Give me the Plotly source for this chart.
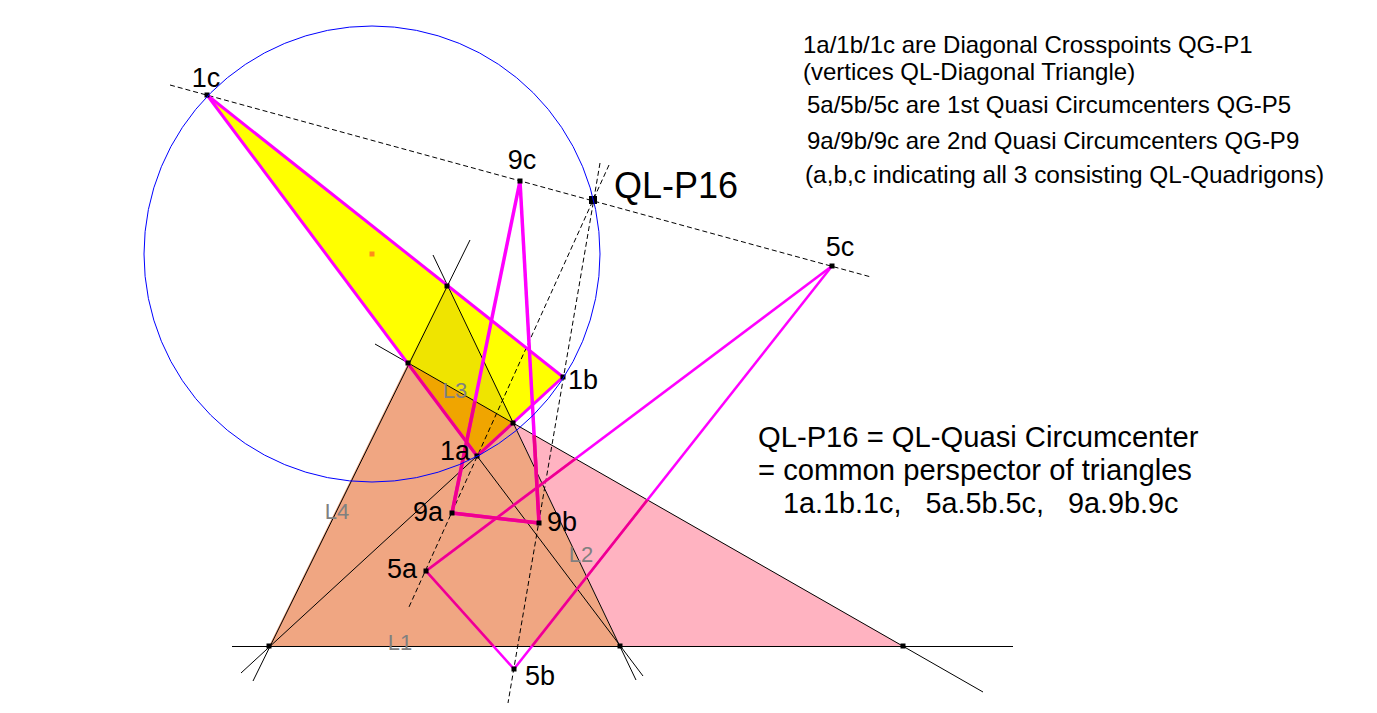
import plotly.graph_objects as go

## named points
pts = {
    "1a": (477, 456), "1b": (563, 377), "1c": (207, 95),
    "5a": (426, 571), "5b": (514, 669), "5c": (832, 266),
    "9a": (452, 513), "9b": (539, 523), "9c": (520, 181),
    "A": (269, 646), "B": (620, 646), "C": (903, 646),
    "D": (408, 363), "E": (447, 286), "F": (513, 423),
}
perspector = (593, 200)
circle_center = (372, 254)
circle_radius = 228

## coloured regions, back to front
region_names = [["1c", "1b", "1a"], ["D", "E", "F"], ["D", "F", "1a"],
                ["A", "B", "F", "1a", "D"], ["F", "B", "C"]]
region_colors = ["#ffff00", "#efe400", "#f0a500", "#f0a682", "#ffb3c1"]

## thin black lines
line_starts = [(232, 646.5), (253, 681), (433, 255), (375, 344), (241, 673), (477, 456)]
line_ends = [(1013, 646.5), (470, 240), (636, 680), (983, 692), (477, 456), (643, 676)]

## dashed perspective lines
dash_starts = [(170, 85), (609, 165), (600, 163)]
dash_ends = [(871, 277), (409, 607), (508, 703)]

## magenta triangles
triangles = [["1a", "1b", "1c"], ["5a", "5b", "5c"], ["9a", "9b", "9c"]]
triangle_widths = [3, 2.5, 3.5]

## texts
label_text = ["1a", "1b", "1c", "5a", "5b", "5c", "9a", "9b", "9c"]
label_x = [455, 583, 206, 402, 540, 840, 428, 562, 522]
label_y = [453, 382, 80, 571, 678, 249, 514, 524, 162]

gray_text = ["L1", "L2", "L3", "L4"]
gray_x = [400, 581, 455, 337]
gray_y = [644, 556, 392, 513]

note_text = [
    "1a/1b/1c are Diagonal Crosspoints QG-P1",
    "(vertices QL-Diagonal Triangle)",
    "5a/5b/5c are 1st Quasi Circumcenters QG-P5",
    "9a/9b/9c are 2nd Quasi Circumcenters QG-P9",
    "(a,b,c indicating all 3 consisting QL-Quadrigons)",
]
note_x = [803, 803, 807, 807, 805]
note_y = [47, 74, 107, 143, 177]
note_size = [24, 24, 24, 24, 24.4]

big_text = [
    "QL-P16 = QL-Quasi Circumcenter",
    "= common perspector of triangles",
    "1a.1b.1c,\u00a0\u00a0\u00a05a.5b.5c,\u00a0\u00a0\u00a09a.9b.9c",
]
big_x = [758, 758, 783]
big_y = [440, 473, 506]
big_size = [29.2, 29.2, 28.8]

FONT = "Liberation Sans, Arial, sans-serif"


def clip(p, q, poly):
    # part of segment p-q inside a convex polygon (Cyrus-Beck)
    t0, t1 = 0.0, 1.0
    dx, dy = q[0] - p[0], q[1] - p[1]
    n = len(poly)
    cx = sum(v[0] for v in poly) / n
    cy = sum(v[1] for v in poly) / n
    for i in range(n):
        a, b = poly[i], poly[(i + 1) % n]
        nx, ny = b[1] - a[1], a[0] - b[0]
        if nx * (cx - a[0]) + ny * (cy - a[1]) < 0:
            nx, ny = -nx, -ny
        den = nx * dx + ny * dy
        num = nx * (p[0] - a[0]) + ny * (p[1] - a[1])
        if den == 0:
            if num < 0:
                return None
        elif den > 0:
            t0 = max(t0, -num / den)
        else:
            t1 = min(t1, -num / den)
    if t0 >= t1:
        return None
    return (p[0] + t0 * dx, p[1] + t0 * dy), (p[0] + t1 * dx, p[1] + t1 * dy)


fig = go.Figure()

for names, color in zip(region_names, region_colors):
    xs = [pts[n][0] for n in names]
    ys = [pts[n][1] for n in names]
    fig.add_trace(go.Scatter(x=xs, y=ys, mode="lines", fill="toself", fillcolor=color,
                             line=dict(width=0), hoverinfo="skip"))

for s, e in zip(line_starts, line_ends):
    fig.add_trace(go.Scatter(x=[s[0], e[0]], y=[s[1], e[1]], mode="lines",
                             line=dict(color="black", width=1), hoverinfo="skip"))

for s, e in zip(dash_starts, dash_ends):
    fig.add_trace(go.Scatter(x=[s[0], e[0]], y=[s[1], e[1]], mode="lines",
                             line=dict(color="black", width=1, dash="5px,3px"), hoverinfo="skip"))

# magenta turns deeper inside the big pink triangle
pink_poly = [pts["A"], pts["C"], pts["D"]]
for tri, w in zip(triangles, triangle_widths):
    for i in range(3):
        p, q = pts[tri[i]], pts[tri[(i + 1) % 3]]
        fig.add_trace(go.Scatter(x=[p[0], q[0]], y=[p[1], q[1]], mode="lines",
                                 line=dict(color="#ff00ff", width=w), hoverinfo="skip"))
        part = clip(p, q, pink_poly)
        if part:
            fig.add_trace(go.Scatter(x=[part[0][0], part[1][0]], y=[part[0][1], part[1][1]], mode="lines",
                                     line=dict(color="#f0008c", width=w), hoverinfo="skip"))

fig.add_trace(go.Scatter(x=[p[0] for p in pts.values()], y=[p[1] for p in pts.values()], mode="markers",
                         marker=dict(symbol="square", size=5, color="black"), hoverinfo="skip"))
fig.add_trace(go.Scatter(x=[perspector[0]], y=[perspector[1]], mode="markers",
                         marker=dict(symbol="square", size=8, color="black"), hoverinfo="skip"))
fig.add_trace(go.Scatter(x=[circle_center[0]], y=[circle_center[1]], mode="markers",
                         marker=dict(symbol="square", size=5, color="#ff8c1a"), hoverinfo="skip"))

fig.add_trace(go.Scatter(x=label_x, y=label_y, text=label_text, mode="text", textposition="middle center",
                         textfont=dict(family=FONT, size=27, color="black"), hoverinfo="skip"))
fig.add_trace(go.Scatter(x=gray_x, y=gray_y, text=gray_text, mode="text", textposition="middle center",
                         textfont=dict(family=FONT, size=22, color="#808080"), hoverinfo="skip"))
fig.add_trace(go.Scatter(x=[614], y=[189], text=["QL-P16"], mode="text", textposition="middle right",
                         textfont=dict(family=FONT, size=36, color="black"), hoverinfo="skip"))
fig.add_trace(go.Scatter(x=note_x, y=note_y, text=note_text, mode="text", textposition="middle right",
                         textfont=dict(family=FONT, size=note_size, color="black"), hoverinfo="skip"))
fig.add_trace(go.Scatter(x=big_x, y=big_y, text=big_text, mode="text", textposition="middle right",
                         textfont=dict(family=FONT, size=big_size, color="black"), hoverinfo="skip"))

fig.add_shape(type="circle", xref="x", yref="y",
              x0=circle_center[0] - circle_radius, x1=circle_center[0] + circle_radius,
              y0=circle_center[1] - circle_radius, y1=circle_center[1] + circle_radius,
              line=dict(color="#0000ff", width=1), layer="above")

fig.update_layout(width=1377, height=713, margin=dict(l=0, r=0, t=0, b=0), showlegend=False,
                  plot_bgcolor="white", paper_bgcolor="white")
fig.update_xaxes(visible=False, range=[0, 1377])
fig.update_yaxes(visible=False, range=[713, 0])

fig.write_html("out.html", config=dict(displayModeBar=False),
               post_script="document.body.style.margin='0';document.body.style.overflow='hidden';")
